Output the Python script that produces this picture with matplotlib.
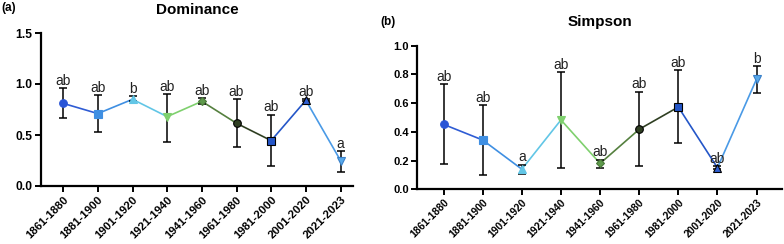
import matplotlib
matplotlib.use("Agg")
import matplotlib.pyplot as plt
import numpy as np

plt.rcParams['font.family'] = ['Liberation Sans', 'DejaVu Sans']

categories = ["1861-1880", "1881-1900", "1901-1920", "1921-1940", "1941-1960",
              "1961-1980", "1981-2000", "2001-2020", "2021-2023"]

dom_mean = [0.81, 0.71, 0.85, 0.68, 0.83, 0.615, 0.445, 0.84, 0.25]
dom_up   = [0.958, 0.89, 0.88, 0.90, 0.86, 0.85, 0.70, 0.85, 0.34]
dom_lo   = [0.67, 0.53, 0.83, 0.43, 0.80, 0.385, 0.20, 0.83, 0.14]
dom_letters = ["ab", "ab", "b", "ab", "ab", "ab", "ab", "ab", "a"]

sim_mean = [0.452, 0.343, 0.14, 0.483, 0.18, 0.418, 0.573, 0.15, 0.768]
sim_up   = [0.733, 0.587, 0.17, 0.817, 0.206, 0.68, 0.828, 0.16, 0.858]
sim_lo   = [0.174, 0.10, 0.11, 0.146, 0.146, 0.162, 0.32, 0.14, 0.668]
sim_letters = ["ab", "ab", "a", "ab", "ab", "ab", "ab", "ab", "b"]

colors = ["#2a55d6", "#3f8fe2", "#62c6e6", "#7fd06e", "#5f9a4c",
          "#2f3f22", "#2456c8", "#2f5fd2", "#58a9ea"]
seg_colors = ["#2f5cd4", "#3f8fe2", "#62c6e6", "#7fd06e", "#55803f",
              "#2f3f22", "#2456c8", "#4a9ae6"]
markers = ["o", "s", "^", "v", "D", "o", "s", "^", "v"]
edges = ["#2a55d6", "#3f8fe2", "#62c6e6", "#7fd06e", "#4a7a3a",
         "black", "black", "black", "#3a80c8"]

fig = plt.figure(figsize=(7.84, 2.44), dpi=100)
ax1 = fig.add_axes([41/784, 1-186/244, (353-41)/784, (186-33)/244])
ax2 = fig.add_axes([417/784, 1-189.3/244, (782-417)/784, (189.3-45.7)/244])


def draw(ax, mean, up, lo, letters, ylim, yticks, xlim, title, tfs):
    x = np.arange(len(categories))
    mean = np.array(mean); up = np.array(up); lo = np.array(lo)
    for i in range(len(x) - 1):
        ax.plot(x[i:i+2], mean[i:i+2], color=seg_colors[i], lw=1.2, zorder=2)
    ax.errorbar(x, mean, yerr=[mean - lo, up - mean], fmt='none', ecolor='black',
                elinewidth=1.1, capsize=2.8, capthick=1.1, zorder=3)
    for i in range(len(x)):
        ax.plot(x[i], mean[i], marker=markers[i], color=colors[i],
                markeredgecolor=edges[i], markeredgewidth=0.8,
                markersize=5.5 if markers[i] != 'D' else 4.5, zorder=4, ls='none')
        ax.annotate(letters[i], (x[i], up[i]), xytext=(0, 0.3),
                    textcoords='offset points', ha='center', va='bottom',
                    fontsize=10, color='#222222', zorder=5)
    ax.set_xlim(*xlim)
    ax.set_ylim(*ylim)
    ax.set_yticks(yticks)
    ax.set_yticklabels([f"{t:.1f}" for t in yticks], fontsize=tfs, fontweight='bold')
    ax.set_xticks(x)
    ax.set_xticklabels(categories, rotation=45, ha='right', rotation_mode='anchor',
                       fontsize=tfs - 0.5, fontweight='bold')
    for s in ['top', 'right']:
        ax.spines[s].set_visible(False)
    for s in ['left', 'bottom']:
        ax.spines[s].set_linewidth(1.6)
    ax.tick_params(axis='both', width=1.4, length=4, pad=2)
    ax.set_title(title, fontsize=11, fontweight='bold', pad=14)


draw(ax1, dom_mean, dom_up, dom_lo, dom_letters, (0, 1.5), [0, 0.5, 1.0, 1.5],
     (-0.64, 8.36), "Dominance", 8.7)
draw(ax2, sim_mean, sim_up, sim_lo, sim_letters, (0, 1.0),
     [0, 0.2, 0.4, 0.6, 0.8, 1.0], (-0.68, 8.65), "Simpson", 8.0)

fig.text(0.002, 1-8/244, "(a)", fontsize=8.5, fontweight='bold', va='center', ha='left')
fig.text(380/784, 1-22/244, "(b)", fontsize=8.5, fontweight='bold', va='center', ha='left')

fig.savefig("out.png", dpi=100)
